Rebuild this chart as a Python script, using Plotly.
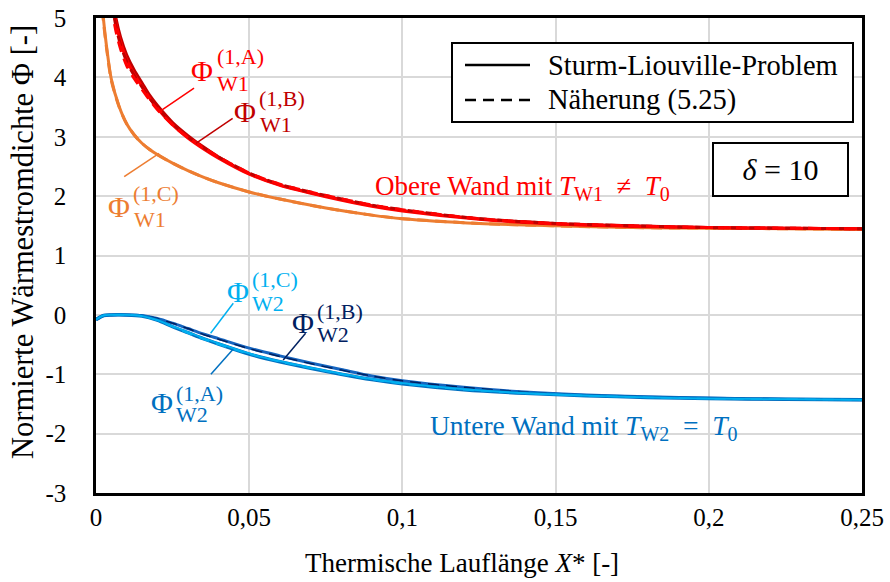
import plotly.graph_objects as go

# ---- data -------------------------------------------------------------
x_ticks = [0, 0.05, 0.1, 0.15, 0.2, 0.25]
x_tick_labels = ["0", "0,05", "0,1", "0,15", "0,2", "0,25"]
y_ticks = [-3, -2, -1, 0, 1, 2, 3, 4, 5]
y_tick_labels = ["-3", "-2", "-1", "0", "1", "2", "3", "4", "5"]

# upper wall (T_W1 != T_0), cases A and B
x_w1 = [0.005, 0.0065, 0.008, 0.01, 0.0125, 0.015, 0.0175, 0.02, 0.025, 0.03, 0.035, 0.04,
        0.05, 0.06, 0.075, 0.09, 0.1, 0.125, 0.15, 0.175, 0.2, 0.225, 0.25]
phi_w1_b = [5.45, 5.00, 4.68, 4.38, 4.12, 3.91, 3.70, 3.53, 3.24, 3.02, 2.83, 2.66,
            2.38, 2.19, 2.00, 1.84, 1.76, 1.62, 1.54, 1.50, 1.47, 1.46, 1.45]
phi_w1_a = [5.35, 4.92, 4.60, 4.30, 4.05, 3.85, 3.65, 3.48, 3.20, 2.98, 2.80, 2.64,
            2.37, 2.18, 1.99, 1.83, 1.75, 1.61, 1.53, 1.49, 1.47, 1.46, 1.45]
phi_w1_a_approx = [5.20, 4.78, 4.48, 4.20, 3.98, 3.80, 3.62, 3.46, 3.20, 2.99, 2.82, 2.66,
                   2.39, 2.20, 2.01, 1.85, 1.77, 1.62, 1.54, 1.50, 1.47, 1.46, 1.45]
phi_w1_b_approx = [5.30, 4.86, 4.55, 4.27, 4.03, 3.84, 3.65, 3.49, 3.22, 3.00, 2.82, 2.66,
                   2.39, 2.20, 2.01, 1.85, 1.77, 1.62, 1.54, 1.50, 1.47, 1.46, 1.45]

# upper wall, case C
x_w1_c = [0.0015, 0.0024, 0.0035, 0.005, 0.0075, 0.01, 0.0125, 0.015, 0.0175, 0.02, 0.025,
          0.03, 0.035, 0.04, 0.05, 0.06, 0.075, 0.09, 0.1, 0.125, 0.15, 0.175, 0.2, 0.225, 0.25]
phi_w1_c = [5.50, 5.00, 4.50, 3.97, 3.52, 3.22, 3.03, 2.89, 2.785, 2.70, 2.555,
            2.43, 2.32, 2.225, 2.07, 1.95, 1.80, 1.68, 1.62, 1.54, 1.50, 1.47, 1.46, 1.45, 1.44]
phi_w1_c_approx = [5.45, 4.95, 4.47, 3.95, 3.51, 3.22, 3.03, 2.89, 2.785, 2.70, 2.555,
                   2.43, 2.32, 2.225, 2.07, 1.95, 1.80, 1.68, 1.62, 1.54, 1.50, 1.47, 1.46, 1.45, 1.44]

# lower wall (T_W2 = T_0)
x_w2 = [0, 0.0025, 0.005, 0.01, 0.015, 0.02, 0.025, 0.03, 0.035, 0.04, 0.05, 0.06, 0.07,
        0.08, 0.09, 0.1, 0.12, 0.14, 0.16, 0.18, 0.2, 0.225, 0.25]
phi_w2_b = [-0.08, -0.01, 0.0, 0.0, -0.01, -0.06, -0.14, -0.23, -0.32, -0.40, -0.56, -0.69, -0.81,
            -0.92, -1.03, -1.11, -1.22, -1.30, -1.35, -1.38, -1.40, -1.42, -1.43]
phi_w2_a = [-0.08, -0.01, 0.0, 0.0, -0.02, -0.09, -0.20, -0.30, -0.40, -0.49, -0.66, -0.79, -0.90,
            -1.00, -1.09, -1.16, -1.26, -1.32, -1.36, -1.39, -1.41, -1.42, -1.43]
phi_w2_c = [-0.08, -0.01, 0.0, 0.0, -0.02, -0.09, -0.19, -0.29, -0.39, -0.48, -0.65, -0.78, -0.89,
            -0.99, -1.08, -1.15, -1.25, -1.32, -1.36, -1.39, -1.41, -1.42, -1.43]
phi_w2_a_approx = [-0.08, -0.01, 0.0, 0.0, -0.02, -0.09, -0.20, -0.31, -0.41, -0.50, -0.66, -0.79, -0.90,
                   -1.00, -1.09, -1.16, -1.26, -1.32, -1.36, -1.39, -1.41, -1.42, -1.43]
phi_w2_b_approx = [-0.08, -0.01, 0.0, 0.0, -0.01, -0.06, -0.14, -0.23, -0.33, -0.41, -0.57, -0.70, -0.82,
                   -0.93, -1.03, -1.11, -1.22, -1.30, -1.35, -1.38, -1.40, -1.42, -1.43]

# ---- styling ------------------------------------------------------------
SERIF = "Liberation Serif, Times New Roman, serif"
RED, DARKRED, ORANGE = "#FF0000", "#C00000", "#ED7D31"
BLUE, NAVY, LIGHTBLUE = "#0070C0", "#002060", "#00B0F0"
BLUE_B_LINE = "#1565C0"
DASH = "11px,7px"

# plot area in pixels (left, right, top, bottom)
PL, PR, PT, PB = 96, 862, 18, 493


def px(xpix):
    return (xpix - PL) / (PR - PL)


def py(ypix):
    return (PB - ypix) / (PB - PT)


fig = go.Figure()


def curve(x, y, color, width=3, dash="solid"):
    fig.add_trace(go.Scatter(x=x, y=y, mode="lines", showlegend=False, hoverinfo="skip",
                             line=dict(color=color, width=width, dash=dash,
                                       shape="spline", smoothing=0.8)))


# lower wall curves
curve(x_w2, phi_w2_b, BLUE_B_LINE, 3)
curve(x_w2, phi_w2_b_approx, NAVY, 1.5, DASH)
curve(x_w2, phi_w2_a, BLUE, 3.5)
curve(x_w2, phi_w2_c, LIGHTBLUE, 1.8)
curve(x_w2, phi_w2_a_approx, LIGHTBLUE, 1.5, DASH)

# upper wall curves
curve(x_w1_c, phi_w1_c, ORANGE, 3)
curve(x_w1_c, phi_w1_c_approx, ORANGE, 3, DASH)
curve(x_w1, phi_w1_b, DARKRED, 3)
curve(x_w1, phi_w1_a, RED, 3)
curve(x_w1, phi_w1_b_approx, DARKRED, 3, DASH)
curve(x_w1, phi_w1_a_approx, RED, 3, DASH)

annotations = []
shapes = []


def phi_label(color, sup, sub, phi_xy, sup_y, sub_y, lead):
    annotations.append(dict(x=phi_xy[0], y=phi_xy[1], text="Φ", showarrow=False,
                            xanchor="center", yanchor="middle", borderpad=0,
                            font=dict(family=SERIF, size=30, color=color)))
    annotations.append(dict(x=phi_xy[0] + 0.0044, y=sup_y, text=sup, showarrow=False,
                            xanchor="left", yanchor="middle", borderpad=0,
                            font=dict(family=SERIF, size=22, color=color)))
    annotations.append(dict(x=phi_xy[0] + 0.0045, y=sub_y, text=sub, showarrow=False,
                            xanchor="left", yanchor="middle", borderpad=0,
                            font=dict(family=SERIF, size=22, color=color)))
    shapes.append(dict(type="line", xref="x", yref="y", x0=lead[0], y0=lead[1],
                       x1=lead[2], y1=lead[3], line=dict(color=color, width=1.5)))


phi_label(RED, "(1,A)", "W1", (0.0346, 4.12), 4.36, 3.90, (0.0320, 3.82, 0.0206, 3.42))
phi_label(DARKRED, "(1,B)", "W1", (0.0486, 3.42), 3.64, 3.20, (0.0446, 3.31, 0.0326, 2.89))
phi_label(ORANGE, "(1,C)", "W1", (0.0075, 1.82), 2.04, 1.61, (0.0092, 2.33, 0.0206, 2.72))
phi_label(LIGHTBLUE, "(1,C)", "W2", (0.0462, 0.40), 0.59, 0.19, (0.0448, 0.195, 0.0374, -0.31))
phi_label(NAVY, "(1,B)", "W2", (0.0674, -0.12), 0.06, -0.33, (0.0684, -0.31, 0.0611, -0.76))
phi_label(BLUE, "(1,A)", "W2", (0.0214, -1.48), -1.32, -1.68, (0.0375, -1.00, 0.0448, -0.575))

# wall descriptions
SUB = "<sub><span style='font-size:20px'>{}</span></sub>"
NB = "\u00a0"
annotations.append(dict(x=0.0904, y=2.14, xanchor="left", yanchor="middle", showarrow=False,
                        text="Obere Wand mit <i>T</i>" + SUB.format("W1") + NB * 2 + "≠" + NB * 2
                             + "<i>T</i>" + SUB.format("0"),
                        font=dict(family=SERIF, size=27, color=RED)))
annotations.append(dict(x=0.1085, y=-1.90, xanchor="left", yanchor="middle", showarrow=False,
                        text="Untere Wand mit <i>T</i>" + SUB.format("W2") + NB * 2 + "=" + NB * 2
                             + "<i>T</i>" + SUB.format("0"),
                        font=dict(family=SERIF, size=27.5, color=BLUE)))

# parameter box
annotations.append(dict(x=0.2234, y=2.45, xanchor="center", yanchor="middle", showarrow=False,
                        text="<i>δ</i>" + NB + "=" + NB + "10", width=133, height=51,
                        borderpad=0, bordercolor="black", borderwidth=2, bgcolor="white",
                        font=dict(family=SERIF, size=30, color="black")))

# legend box drawn in paper coordinates
shapes.append(dict(type="rect", xref="paper", yref="paper", x0=px(452), x1=px(853),
                   y0=py(122), y1=py(43), line=dict(color="black", width=2),
                   fillcolor="white", layer="above"))
for ypix, dash, label in [(65, "solid", "Sturm-Liouville-Problem"),
                          (100, DASH, "Näherung (5.25)")]:
    shapes.append(dict(type="line", xref="paper", yref="paper", x0=px(465), x1=px(530),
                       y0=py(ypix), y1=py(ypix), line=dict(color="black", width=2.5, dash=dash),
                       layer="above"))
    annotations.append(dict(xref="paper", yref="paper", x=px(546), y=py(ypix),
                            xanchor="left", yanchor="middle", showarrow=False, text=label,
                            font=dict(family=SERIF, size=28.5, color="black")))

# axis titles
annotations.append(dict(xref="paper", yref="paper", x=px(462), y=py(563),
                        xanchor="center", yanchor="middle", showarrow=False,
                        text="Thermische Lauflänge <i>X</i>* [-]",
                        font=dict(family=SERIF, size=27, color="black")))
annotations.append(dict(xref="paper", yref="paper", x=px(23), y=py(242),
                        xanchor="center", yanchor="middle", showarrow=False, textangle=-90,
                        text="Normierte Wärmestromdichte Φ [-]",
                        font=dict(family=SERIF, size=30.5, color="black")))

axis_common = dict(showgrid=True, gridcolor="#D9D9D9", gridwidth=2, zeroline=False,
                   showline=True, linecolor="black", linewidth=2.5, mirror=True, ticks="",
                   automargin=False,
                   tickfont=dict(family=SERIF, size=25, color="black"))

fig.update_layout(
    width=890, height=582,
    margin=dict(l=PL, r=890 - PR, t=PT, b=582 - PB),
    paper_bgcolor="white", plot_bgcolor="white",
    showlegend=False,
    xaxis=dict(range=[0, 0.25], tickvals=x_ticks, ticktext=x_tick_labels,
               ticklabelstandoff=0, **axis_common),
    yaxis=dict(range=[-3, 5], tickvals=y_ticks, ticktext=y_tick_labels,
               ticklabelstandoff=22, **axis_common),
    annotations=annotations,
    shapes=shapes,
)

fig.write_html("out.html")
